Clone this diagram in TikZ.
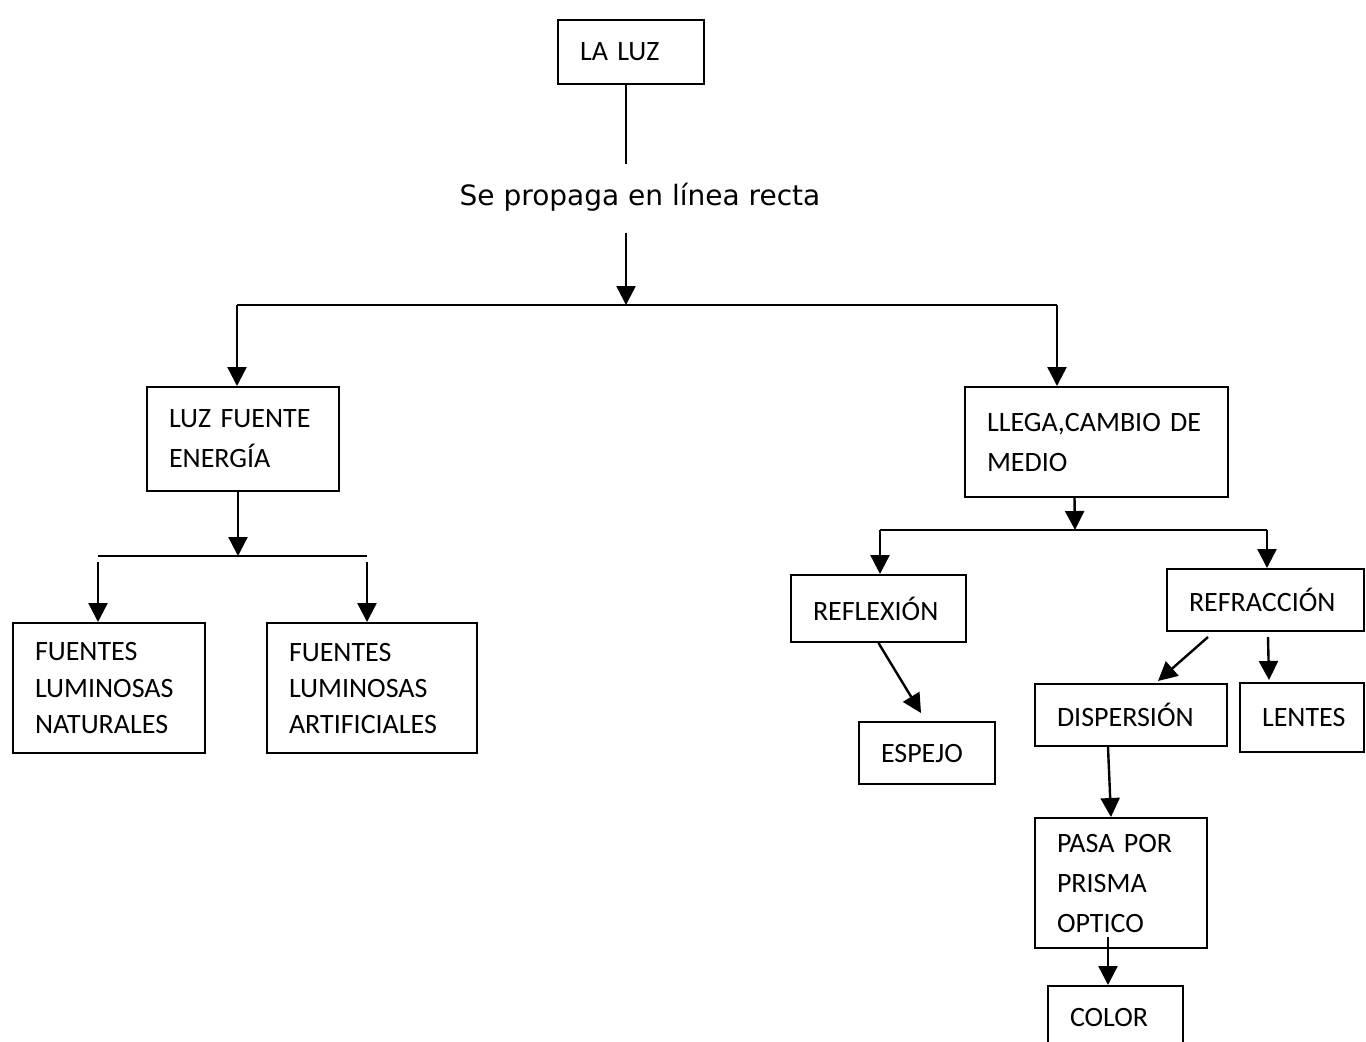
\documentclass[tikz,border=0pt]{standalone}
\usepackage{fontspec}
\setmainfont{Carlito}
\newfontfamily\titulo{DejaVu Sans}
\usetikzlibrary{positioning, arrows.meta}

\begin{document}
\begin{tikzpicture}[x=0.5pt, y=-0.5pt,
    caja/.style={draw, line width=1pt, anchor=north west, align=left,
      inner xsep=11pt, inner ysep=3pt, font=\fontsize{14}{20}\selectfont},
    lin/.style={line width=1.2pt},
    flecha/.style={line width=1.2pt, -{Triangle[length=9.5pt, width=9.5pt]}}]

  \clip (0,0) rectangle (1366,1041);

  % --- arriba ---
  \node[caja, text width=51pt, minimum height=32pt] (luz) at (557,19) {LA LUZ};
  \node[font=\titulo\fontsize{14}{17}\selectfont] (prop) at (640,197) {Se propaga en línea recta};
  \coordinate (t0) at (626,305);
  \coordinate (bl) at (237,305);
  \coordinate (br) at (1057,305);
  \draw[lin] (luz.south -| t0) -- ([yshift=6pt]prop.north -| t0);
  \draw[flecha] ([yshift=-7.5pt]prop.south -| t0) -- (t0);
  \draw[lin] (bl) -- (br);

  % --- rama izquierda ---
  \node[caja, text width=74pt, minimum height=52pt] (fuente) at (146,386) {LUZ FUENTE\\ENERGÍA};
  \node[caja, text width=74pt, minimum height=65pt, font=\fontsize{14}{18}\selectfont] (natur) at (12,622) {FUENTES\\LUMINOSAS\\NATURALES};
  \node[caja, text width=83pt, minimum height=65pt, font=\fontsize{14}{18}\selectfont] (artif) at (266,622) {FUENTES\\LUMINOSAS\\ARTIFICIALES};
  \coordinate (b2) at (238,556);
  \coordinate (b2l) at (98,556);
  \coordinate (b2r) at (367,556);
  \draw[flecha] (bl) -- (bl |- fuente.north);
  \draw[flecha] (fuente.south -| b2) -- (b2);
  \draw[lin] (b2l) -- (b2r);
  \draw[flecha] ([yshift=-3pt]b2l) -- (b2l |- natur.north);
  \draw[flecha] ([yshift=-3pt]b2r) -- (b2r |- artif.north);

  % --- rama derecha ---
  \node[caja, text width=109.5pt, minimum height=55pt] (llega) at (964,386) {LLEGA,CAMBIO DE\\MEDIO};
  \node[caja, text width=65.5pt, minimum height=33.5pt] (reflex) at (790,574) {REFLEXIÓN};
  \node[caja, text width=76.5pt, minimum height=31pt] (refrac) at (1166,568) {REFRACCIÓN};
  \node[caja, text width=46pt, minimum height=31pt] (espejo) at (858,721) {ESPEJO};
  \node[caja, text width=74pt, minimum height=31pt] (disper) at (1034,683) {DISPERSIÓN};
  \node[caja, text width=40pt, minimum height=34.5pt] (lentes) at (1239,682) {LENTES};
  \node[caja, text width=64pt, minimum height=65pt] (pasa) at (1034,817) {PASA POR\\PRISMA\\OPTICO};
  \node[caja, text width=45.5pt, minimum height=31pt] (color) at (1047,985) {COLOR};
  \coordinate (b3) at (1075,530);
  \coordinate (b3l) at (880,530);
  \coordinate (b3r) at (1267,530);
  \draw[flecha] (br) -- (br |- llega.north);
  \draw[flecha] ([xshift=-11pt]llega.south) -- (b3);
  \draw[lin] (b3l) -- (b3r);
  \draw[flecha] (b3l) -- (b3l |- reflex.north);
  \draw[flecha] (b3r) -- (b3r |- refrac.north);
  \draw[flecha] (reflex.south) -- ([shift={(-3pt,4pt)}]espejo.north);
  \draw[flecha] ([shift={(-28.75pt,-2.5pt)}]refrac.south) -- ([shift={(13.5pt,1pt)}]disper.north);
  \draw[flecha] ([shift={(1.25pt,-2.5pt)}]refrac.south) -- ([shift={(-16.5pt,1pt)}]lentes.north);
  \draw[flecha] ([xshift=-11.5pt]disper.south) -- ([xshift=-5pt]pasa.north);
  \draw[flecha] ([shift={(-6.5pt,6pt)}]pasa.south) -- ([xshift=-3.75pt]color.north);
\end{tikzpicture}
\end{document}
